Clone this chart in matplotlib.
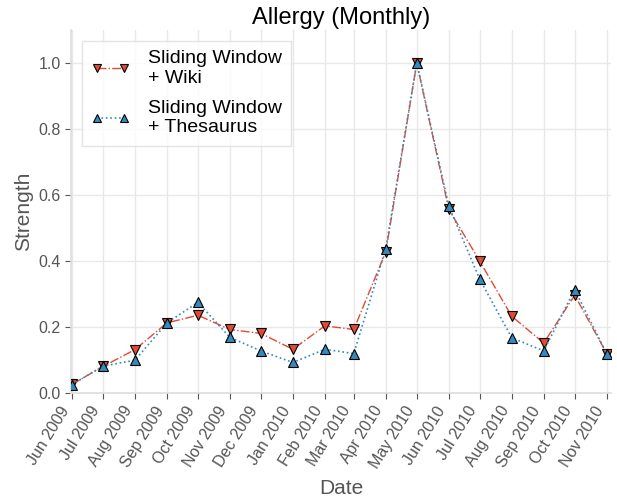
import matplotlib
matplotlib.use("Agg")
import matplotlib.pyplot as plt
import matplotlib.dates as mdates
import pandas as pd

plt.rcParams['font.family'] = ['Liberation Sans', 'DejaVu Sans']

months = pd.date_range("2009-06-01", "2010-11-01", freq="MS")
wiki = [0.027, 0.081, 0.132, 0.213, 0.236, 0.193, 0.181, 0.133, 0.204, 0.193,
        0.428, 1.0, 0.557, 0.400, 0.233, 0.152, 0.297, 0.120]
thes = [0.026, 0.082, 0.100, 0.213, 0.275, 0.169, 0.128, 0.093, 0.133, 0.120,
        0.438, 1.0, 0.567, 0.345, 0.168, 0.128, 0.314, 0.120]
labels = ["Sliding Window\n+ Wiki", "Sliding Window\n+ Thesaurus"]

fig = plt.figure(figsize=(6.17, 4.99), dpi=100)
ax = fig.add_axes([0.115, 0.212, 0.875, 0.728])

red = "#E24A33"
blue = "#348ABD"
ax.plot(months, wiki, linestyle="-.", color=red, lw=1.0, marker="v", ms=7,
        mfc=red, mec="black", mew=0.8, label=labels[0], zorder=3)
ax.plot(months, thes, linestyle=":", color=blue, lw=1.2, marker="^", ms=7,
        mfc=blue, mec="black", mew=0.8, label=labels[1], zorder=3)

ax.set_xlim(pd.Timestamp("2009-05-31"), pd.Timestamp("2010-11-05"))
ax.set_ylim(0, 1.1)
ax.set_yticks([0.0, 0.2, 0.4, 0.6, 0.8, 1.0])
ax.yaxis.set_major_formatter(matplotlib.ticker.FormatStrFormatter("%.1f"))
ax.set_xticks(months)
ax.xaxis.set_major_formatter(mdates.DateFormatter("%b %Y"))
plt.setp(ax.get_xticklabels(), rotation=58, ha="right")

ax.grid(True, color="#E8E8E8", lw=1.0, zorder=0)
ax.set_axisbelow(True)
for s in ["top", "right"]:
    ax.spines[s].set_visible(False)
for s in ["bottom", "left"]:
    ax.spines[s].set_color("#DDDDDD")
    ax.spines[s].set_linewidth(1.2)
ax.tick_params(axis="both", colors="#555555", labelsize=11.5, length=4, width=0.8)

ax.set_title("Allergy (Monthly)", fontsize=17, color="black", pad=4)
ax.set_xlabel("Date", fontsize=15, color="#555555", labelpad=6)
ax.set_ylabel("Strength", fontsize=15, color="#555555")

leg = ax.legend(loc="upper left", fontsize=14, frameon=True, fancybox=False,
                borderpad=0.5, labelspacing=0.65, handlelength=2.0, numpoints=2,
                handletextpad=0.9, borderaxespad=0.55, markerscale=0.75)
leg.get_frame().set_edgecolor("#DDDDDD")
leg.get_frame().set_facecolor("white")

fig.savefig("out.png", dpi=100)
